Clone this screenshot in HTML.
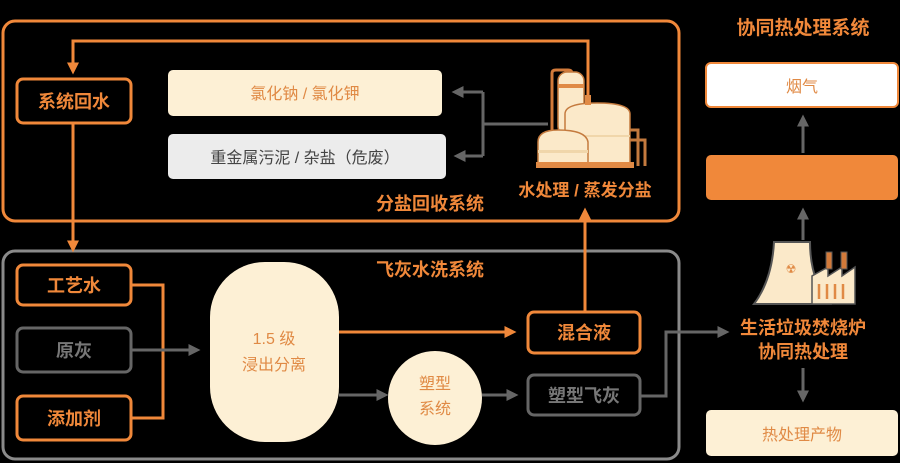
<!DOCTYPE html>
<html><head><meta charset="utf-8"><style>
html,body{margin:0;padding:0;background:#000;}
svg{display:block}
text{font-family:"Liberation Sans","Noto Sans CJK SC",sans-serif;}
</style></head><body>
<svg width="900" height="463" viewBox="0 0 900 463" xmlns="http://www.w3.org/2000/svg">
<defs>
<marker id="ag" markerWidth="4" markerHeight="4" refX="2.5" refY="2" orient="auto" markerUnits="strokeWidth"><path d="M0,0 L4,2 L0,4 Z" fill="#666"/></marker>
<marker id="ao" markerWidth="4" markerHeight="4" refX="2.5" refY="2" orient="auto" markerUnits="strokeWidth"><path d="M0,0 L4,2 L0,4 Z" fill="#f0883a"/></marker>
</defs>
<rect x="3" y="21" width="676" height="200" rx="12" fill="none" stroke="#f0883a" stroke-width="3"/>
<rect x="3" y="251" width="676" height="208" rx="12" fill="none" stroke="#8a8a8a" stroke-width="3"/>

<path d="M588,100 V41 H73 V70" fill="none" stroke="#f0883a" stroke-width="3" marker-end="url(#ao)"/>
<rect x="17" y="79" width="114" height="44" rx="6" fill="#000" stroke="#f0883a" stroke-width="3"/>
<text x="74" y="108" text-anchor="middle" font-size="18" font-weight="bold" fill="#f0883a">系统回水</text>
<path d="M73,123 V248" fill="none" stroke="#f0883a" stroke-width="3" marker-end="url(#ao)"/>

<rect x="168" y="70" width="274" height="46" rx="5" fill="#fdf0d5"/>
<text x="305" y="99" text-anchor="middle" font-size="16" fill="#e08a45">氯化钠 / 氯化钾</text>
<rect x="168" y="134" width="278" height="45" rx="5" fill="#ececec"/>
<text x="305" y="163" text-anchor="middle" font-size="16" fill="#444">重金属污泥 / 杂盐（危废）</text>
<path d="M548,124 H483 M483,92 V156" fill="none" stroke="#666" stroke-width="3"/>
<path d="M483,92 H456" fill="none" stroke="#666" stroke-width="3" marker-end="url(#ag)"/>
<path d="M483,156 H458" fill="none" stroke="#666" stroke-width="3" marker-end="url(#ag)"/>

<g>
<path d="M552,135 V73 Q552,70 556,70 H568 Q572,70 572,74 V90" fill="none" stroke="#d27a3a" stroke-width="3"/>
<rect x="558" y="72" width="26" height="63" rx="9" fill="#fbe9c9" stroke="#c47a3e" stroke-width="1.5"/>
<rect x="558" y="84" width="26" height="4" fill="#e08a45"/>
<path d="M565,114 Q565,103 597,103 Q630,103 630,114 V165 H565 Z" fill="#fbe9c9" stroke="#c47a3e" stroke-width="1.5"/>
<rect x="565" y="135" width="65" height="2" fill="#f0d6aa"/>
<rect x="585" y="95" width="6" height="10" fill="#e08a45"/>
<path d="M538,142 Q538,130 558,130 Q586,130 588,142 V165 H538 Z" fill="#fbe9c9" stroke="#c47a3e" stroke-width="1.5"/>
<rect x="538" y="150" width="50" height="3" fill="#f0d6aa"/>
<rect x="536" y="162" width="98" height="6" fill="#e08a45"/>
<path d="M630,130 H638 V166 M630,140 H645 V166" fill="none" stroke="#c47a3e" stroke-width="3"/>
</g>
<text x="585" y="196" text-anchor="middle" font-size="17" font-weight="bold" fill="#f0883a">水处理 / 蒸发分盐</text>
<text x="430" y="210" text-anchor="middle" font-size="18" font-weight="bold" fill="#f0883a">分盐回收系统</text>
<text x="430" y="276" text-anchor="middle" font-size="18" font-weight="bold" fill="#f0883a">飞灰水洗系统</text>

<rect x="17" y="265" width="114" height="40" rx="6" fill="#000" stroke="#f0883a" stroke-width="3"/>
<text x="74" y="292" text-anchor="middle" font-size="18" font-weight="bold" fill="#f0883a">工艺水</text>
<rect x="17" y="328" width="114" height="44" rx="6" fill="#000" stroke="#666" stroke-width="3"/>
<text x="74" y="357" text-anchor="middle" font-size="18" font-weight="bold" fill="#777">原灰</text>
<rect x="17" y="396" width="114" height="44" rx="6" fill="#000" stroke="#f0883a" stroke-width="3"/>
<text x="74" y="425" text-anchor="middle" font-size="18" font-weight="bold" fill="#f0883a">添加剂</text>
<path d="M131,285 H163 V418 H131" fill="none" stroke="#f0883a" stroke-width="3"/>
<path d="M131,350 H196" fill="none" stroke="#666" stroke-width="3" marker-end="url(#ag)"/>

<rect x="210" y="262" width="129" height="180" rx="55" fill="#fdf0d5"/>
<text x="274" y="344" text-anchor="middle" font-size="16" fill="#e08a45">1.5 级</text>
<text x="274" y="370" text-anchor="middle" font-size="16" fill="#e08a45">浸出分离</text>
<path d="M339,332 H512" fill="none" stroke="#f0883a" stroke-width="3" marker-end="url(#ao)"/>
<path d="M339,395 H384" fill="none" stroke="#666" stroke-width="3" marker-end="url(#ag)"/>
<circle cx="435" cy="398" r="47" fill="#fdf0d5"/>
<text x="435" y="389" text-anchor="middle" font-size="16" fill="#e08a45">塑型</text>
<text x="435" y="414" text-anchor="middle" font-size="16" fill="#e08a45">系统</text>
<path d="M482,395 H514" fill="none" stroke="#666" stroke-width="3" marker-end="url(#ag)"/>

<rect x="528" y="312" width="112" height="41" rx="6" fill="#000" stroke="#f0883a" stroke-width="3"/>
<text x="584" y="339" text-anchor="middle" font-size="18" font-weight="bold" fill="#f0883a">混合液</text>
<path d="M585,312 V212" fill="none" stroke="#f0883a" stroke-width="3" marker-end="url(#ao)"/>
<rect x="528" y="375" width="112" height="40" rx="6" fill="#000" stroke="#666" stroke-width="3"/>
<text x="584" y="402" text-anchor="middle" font-size="18" font-weight="bold" fill="#777">塑型飞灰</text>
<path d="M640,396 H666 V332 H725" fill="none" stroke="#666" stroke-width="3" marker-end="url(#ag)"/>

<text x="803" y="34" text-anchor="middle" font-size="19" font-weight="bold" fill="#f0883a">协同热处理系统</text>
<rect x="706" y="63" width="192" height="44" rx="5" fill="#fff" stroke="#f0883a" stroke-width="2"/>
<text x="802" y="92" text-anchor="middle" font-size="16" fill="#e08a45">烟气</text>
<path d="M803,153 V119" fill="none" stroke="#666" stroke-width="3" marker-end="url(#ag)"/>
<rect x="706" y="155" width="192" height="45" rx="5" fill="#f0883a"/>
<path d="M803,240 V212" fill="none" stroke="#666" stroke-width="3" marker-end="url(#ag)"/>
<path d="M774,242 H810 Q810,280 830,304 H754 Q772,280 774,242 Z" fill="#fbe9c9" stroke="#555" stroke-width="2"/>
<text x="791" y="273" text-anchor="middle" font-size="12" fill="#e08a45">☢</text>
<path d="M812,304 V276 L828,267 V276 L842,267 V276 L855,267 V304 Z" fill="#fbe9c9" stroke="#555" stroke-width="1.5"/>
<rect x="826" y="252" width="6" height="17" fill="#d27a3a" stroke="#555"/>
<rect x="841" y="252" width="6" height="17" fill="#d27a3a" stroke="#555"/>
<path d="M819,284 V299 M827,284 V299 M835,284 V299 M843,284 V299" stroke="#e08a45" stroke-width="2.5"/>
<text x="803" y="334" text-anchor="middle" font-size="18" font-weight="bold" fill="#f0883a">生活垃圾焚烧炉</text>
<text x="803" y="358" text-anchor="middle" font-size="18" font-weight="bold" fill="#f0883a">协同热处理</text>
<path d="M803,368 V398" fill="none" stroke="#666" stroke-width="3" marker-end="url(#ag)"/>
<rect x="706" y="410" width="192" height="46" rx="5" fill="#fdf0d5"/>
<text x="802" y="440" text-anchor="middle" font-size="16" fill="#e08a45">热处理产物</text>
</svg>
</body></html>
